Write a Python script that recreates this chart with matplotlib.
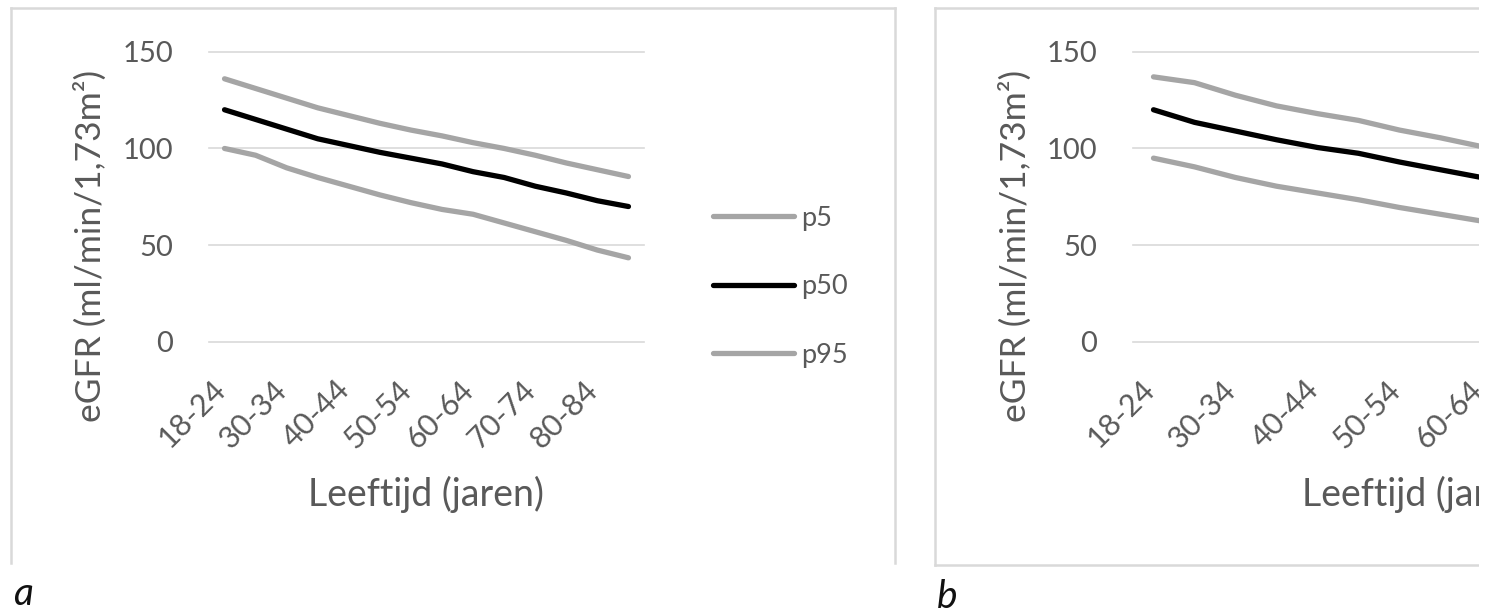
import matplotlib
matplotlib.use('Agg')
import matplotlib.pyplot as plt
from matplotlib.lines import Line2D
from matplotlib.patches import Rectangle
from matplotlib.transforms import ScaledTranslation

W, H = 1496, 614

# leeftijdsgroepen (alleen elke tweede wordt gelabeld)
categories = ['18-24', '25-29', '30-34', '35-39', '40-44', '45-49', '50-54',
              '55-59', '60-64', '65-69', '70-74', '75-79', '80-84', '85+']

# panel a
a_p5 = [100, 96.5, 90, 85, 80.5, 76, 72, 68.5, 66, 61.5, 57, 52.5, 47.5, 43.5]
a_p50 = [120, 115, 110, 105, 101.5, 98, 95, 92, 88, 85, 80.5, 77, 73, 70]
a_p95 = [136, 131, 126, 121, 117, 113, 109.5, 106.5, 103, 100, 96.5, 92.5, 89, 85.5]

# panel b (rechterdeel valt buiten beeld, alleen zichtbare punten)
b_p5 = [95, 90.5, 85, 80.5, 77, 73.5, 69.5, 66, 62.5]
b_p50 = [120, 113.5, 109, 104.5, 100.5, 97.5, 93, 89, 85]
b_p95 = [137, 134, 127.5, 122, 118, 114.5, 109.5, 105.5, 101]

yticks = [0, 50, 100, 150]
series_names = ['p5', 'p50', 'p95']

TXT = '#595959'
GRID = '#D9D9D9'
GREY = '#A5A5A5'

plt.rcParams['font.family'] = ['Lato', 'DejaVu Sans']
fig = plt.figure(figsize=(W / 100, H / 100), dpi=100)


def fx(x):
    return x / W


def fy(y):
    return 1 - y / H


def frame_line(x0, y0, x1, y1):
    fig.add_artist(Line2D([fx(x0), fx(x1)], [fy(y0), fy(y1)], transform=fig.transFigure,
                          color=GRID, lw=1.8))


def panel(left, width, title_off, p5, p50, p95, n_labels, legend):
    ax = fig.add_axes([fx(left), fy(342), width / W, (342 - 51.7) / H])
    x = list(range(len(categories)))
    ax.plot(x[:len(p5)], p5, color=GREY, lw=3.8, solid_capstyle='round', label=series_names[0])
    ax.plot(x[:len(p50)], p50, color='black', lw=3.8, solid_capstyle='round', label=series_names[1])
    ax.plot(x[:len(p95)], p95, color=GREY, lw=3.8, solid_capstyle='round', label=series_names[2])
    ax.set_xlim(-0.5, len(categories) - 0.5)
    ax.set_ylim(0, 150)
    ax.set_yticks(yticks)
    ax.set_xticks(x[:n_labels:2])
    ax.set_xticklabels(categories[:n_labels:2], rotation=45, ha='right', va='top')
    ax.tick_params(axis='y', length=0, pad=26, labelsize=21, labelcolor=TXT)
    ax.tick_params(axis='x', length=0, pad=24, labelsize=22, labelcolor=TXT)
    for lab in ax.get_xticklabels():
        lab.set_transform(lab.get_transform() + ScaledTranslation(6 / 100, 0, fig.dpi_scale_trans))
    ax.yaxis.grid(True, color=GRID, lw=1.2)
    for gl in ax.get_ygridlines():
        gl.set_clip_on(False)
    ax.set_axisbelow(True)
    for s in ax.spines.values():
        s.set_visible(False)
    fig.text(fx(left + width / 2), fy(506), 'Leeftijd (jaren)', ha='center', va='baseline',
             fontsize=27, color=TXT)
    fig.text(fx(90 + title_off), fy(246), 'eGFR (ml/min/1,73m²)', rotation=90, ha='center',
             va='center', fontsize=25.5, color=TXT)
    if legend:
        leg = ax.legend(loc='center left', bbox_to_anchor=(fx(713), fy(286.7)),
                        bbox_transform=fig.transFigure, frameon=False, fontsize=19.5,
                        handlelength=3.0, handletextpad=0.25, labelspacing=1.6,
                        borderpad=0, borderaxespad=0)
        for t in leg.get_texts():
            t.set_color(TXT)
    return ax


panel(209, 435, 0, a_p5, a_p50, a_p95, len(categories), True)
panel(1133, 574, 925, b_p5, b_p50, b_p95, 9, False)

# kaders
frame_line(11, 8, 11, 563)
frame_line(11, 8, 895, 8)
frame_line(895, 8, 895, 563)
frame_line(935, 8, 935, 565)
frame_line(935, 8, 1496, 8)
frame_line(935, 565, 1496, 565)

fig.text(fx(13), fy(605), 'a', style='italic', fontsize=28, color='#111111', va='baseline')
fig.text(fx(937), fy(608), 'b', style='italic', fontsize=28, color='#111111', va='baseline')

# rechterrand afgesneden
fig.add_artist(Rectangle((fx(1479), 0), 1 - fx(1479), 1, transform=fig.transFigure,
                         facecolor='white', edgecolor='none', zorder=10))

fig.savefig('out.png', dpi=100)
